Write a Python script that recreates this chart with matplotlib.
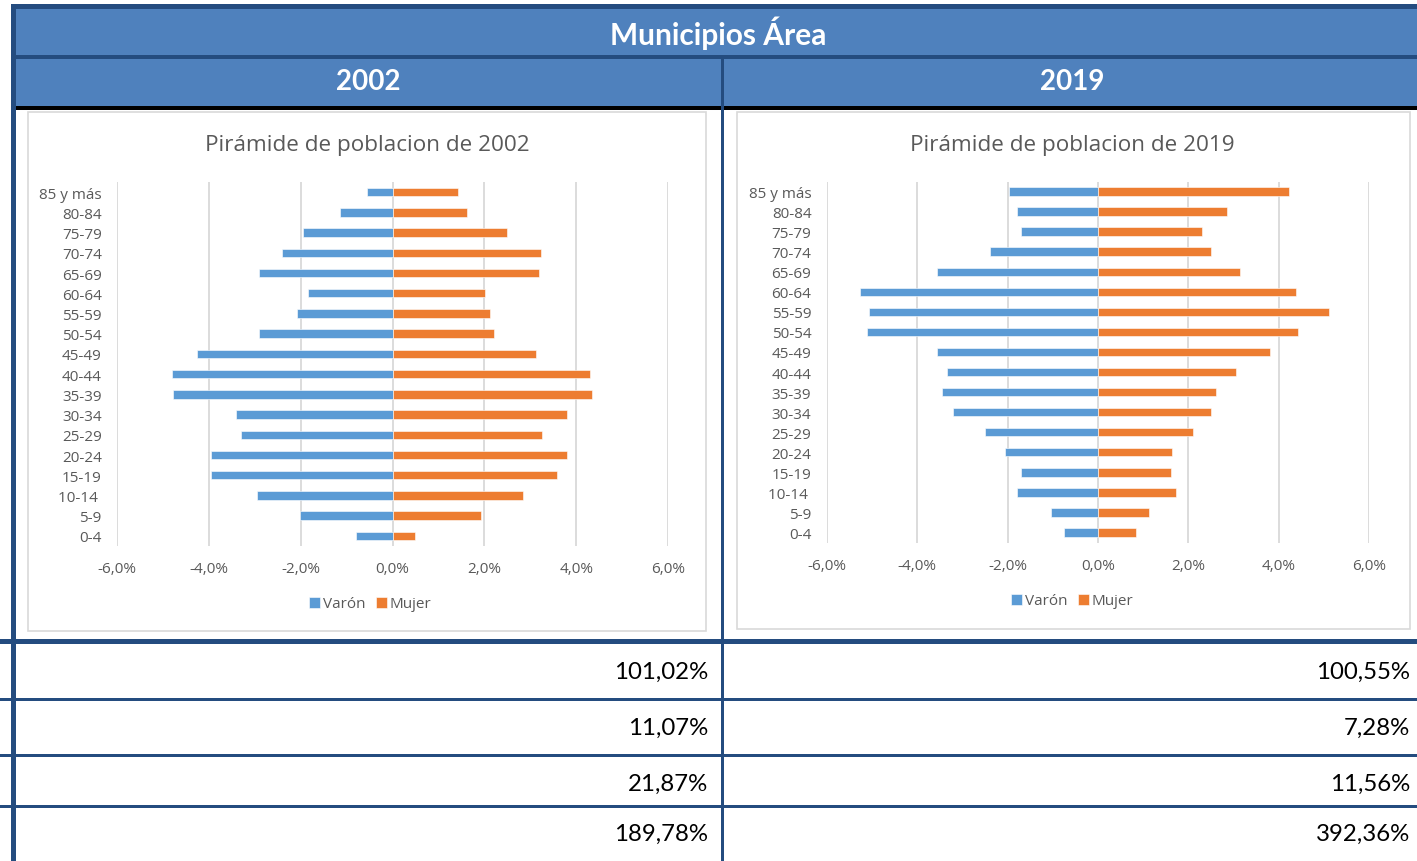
import matplotlib
matplotlib.use('Agg')
import matplotlib.pyplot as plt
from matplotlib import patches
from matplotlib.ticker import FuncFormatter, MultipleLocator

# ---- data ----
ages = ["0-4", "5-9", "10-14 ", "15-19", "20-24", "25-29", "30-34", "35-39", "40-44",
        "45-49", "50-54", "55-59", "60-64", "65-69", "70-74", "75-79", "80-84", "85 y más"]

varon_2002 = [-0.80, -2.02, -2.96, -3.96, -3.96, -3.30, -3.41, -4.79, -4.80,
              -4.25, -2.91, -2.07, -1.85, -2.90, -2.41, -1.96, -1.14, -0.56]
mujer_2002 = [0.50, 1.93, 2.85, 3.58, 3.79, 3.25, 3.80, 4.34, 4.31,
              3.12, 2.22, 2.12, 2.01, 3.19, 3.23, 2.49, 1.62, 1.42]

varon_2019 = [-0.75, -1.04, -1.80, -1.70, -2.05, -2.49, -3.20, -3.45, -3.33,
              -3.56, -5.11, -5.07, -5.26, -3.57, -2.38, -1.70, -1.80, -1.96]
mujer_2019 = [0.85, 1.13, 1.73, 1.61, 1.64, 2.11, 2.50, 2.61, 3.05,
              3.81, 4.42, 5.11, 4.37, 3.13, 2.50, 2.29, 2.85, 4.23]

years = ["2002", "2019"]
table_2002 = ["101,02%", "11,07%", "21,87%", "189,78%"]
table_2019 = ["100,55%", "7,28%", "11,56%", "392,36%"]

# ---- style ----
W, H = 1417, 862
DARK = '#244C7F'
HEAD = '#4F81BD'
BLUE = '#5B9BD5'
ORANGE = '#ED7D31'
GREY_TXT = '#595959'
GRID = '#D9D9D9'
CHART_FONT = ['Open Sans', 'DejaVu Sans']
TABLE_FONT = ['Lato', 'DejaVu Sans']

fig = plt.figure(figsize=(W / 100, H / 100), dpi=100)
bg = fig.add_axes([0, 0, 1, 1])
bg.set_xlim(0, W)
bg.set_ylim(H, 0)
bg.axis('off')


def rect(x0, y0, x1, y1, color, **kw):
    bg.add_patch(patches.Rectangle((x0, y0), x1 - x0, y1 - y0, facecolor=color,
                                   edgecolor=kw.pop('edgecolor', 'none'), **kw))


# header band
rect(11, 5, W, 10, DARK)
rect(16, 10, W, 56, HEAD)
rect(16, 56, W, 60, DARK)
rect(16, 60, W, 107, HEAD)
rect(16, 107, W, 111, 'black')
rect(11, 5, 16, H, DARK)
rect(721, 59, 724, H, DARK)

bg.text(718, 33, "Municipios Área", color='white', fontsize=21.5, fontweight='bold',
        family=TABLE_FONT, ha='center', va='center')
bg.text(368, 82, years[0], color='white', fontsize=20, fontweight='bold',
        family=TABLE_FONT, ha='center', va='center')
bg.text(1072, 82, years[1], color='white', fontsize=20, fontweight='bold',
        family=TABLE_FONT, ha='center', va='center')

# table lines and values
rect(0, 640, W, 645, DARK)
for y in (699, 755, 806):
    rect(0, y, W, y + 3, DARK)
row_y = [672, 728, 784, 834]
for i, y in enumerate(row_y):
    bg.text(708, y, table_2002[i], fontsize=17.3, family=TABLE_FONT, color='black',
            ha='right', va='center')
    bg.text(1410, y, table_2019[i], fontsize=17.3, family=TABLE_FONT, color='black',
            ha='right', va='center')

# chart boxes
rect(28, 113, 706, 632, 'white', edgecolor=GRID, linewidth=1.2)
rect(737, 113, 1410, 630, 'white', edgecolor=GRID, linewidth=1.2)


def pyramid(px_left, px_right, px_top, px_bottom, varon, mujer, title, title_xy, legend_xy):
    ax = fig.add_axes([px_left / W, 1 - px_bottom / H,
                       (px_right - px_left) / W, (px_bottom - px_top) / H])
    ax.set_facecolor('none')
    pos = list(range(len(ages)))
    ax.barh(pos, varon, height=0.42, color=BLUE, edgecolor='white', linewidth=0.4,
            label='Varón', zorder=3)
    ax.barh(pos, mujer, height=0.42, color=ORANGE, edgecolor='white', linewidth=0.4,
            label='Mujer', zorder=3)
    ax.set_xlim(-6, 6)
    ax.set_ylim(-0.5, len(ages) - 0.5)
    ax.xaxis.set_major_locator(MultipleLocator(2))
    ax.xaxis.set_major_formatter(FuncFormatter(lambda v, p: f"{v:.1f}%".replace('.', ',')))
    ax.set_yticks(pos)
    ax.set_yticklabels(ages)
    ax.grid(axis='x', color=GRID, linewidth=1.3, zorder=0)
    ax.set_axisbelow(True)
    for s in ax.spines.values():
        s.set_visible(False)
    ax.tick_params(axis='both', length=0, labelsize=11, labelcolor=GREY_TXT)
    ax.tick_params(axis='x', pad=11)
    ax.tick_params(axis='y', pad=11)
    for lab in ax.get_xticklabels() + ax.get_yticklabels():
        lab.set_family(CHART_FONT)
    bg.text(title_xy[0], title_xy[1], title, fontsize=16.2, color=GREY_TXT,
            family=CHART_FONT, ha='center', va='center')
    ax.legend(loc='center', bbox_to_anchor=(legend_xy[0] / W, 1 - legend_xy[1] / H),
              bbox_transform=fig.transFigure, ncol=2, frameon=False,
              handlelength=0.75, handleheight=0.75, handletextpad=0.15,
              columnspacing=0.7, prop={'family': CHART_FONT, 'size': 11},
              labelcolor=GREY_TXT)
    return ax


pyramid(117, 668, 183, 547, varon_2002, mujer_2002,
        "Pirámide de poblacion de 2002", (367, 146), (370, 605))
pyramid(826.7, 1369.3, 182.5, 543.5, varon_2019, mujer_2019,
        "Pirámide de poblacion de 2019", (1072, 146), (1072, 602))

fig.savefig('out.png', dpi=100)
